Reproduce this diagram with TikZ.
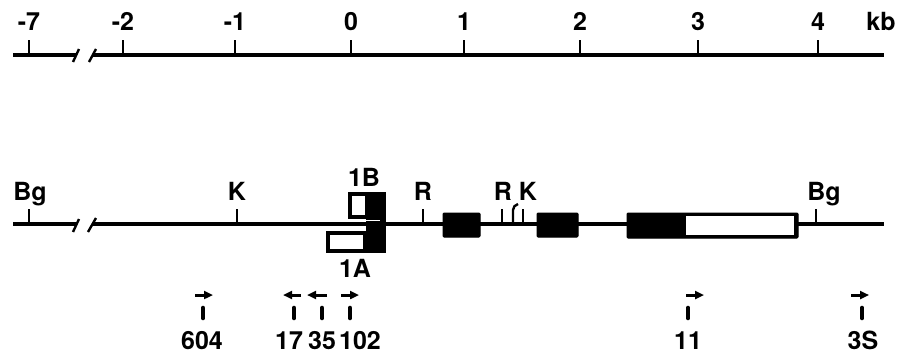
\documentclass[tikz,border=0pt]{standalone}
\usepackage{fontspec}
\setmainfont{TeX Gyre Heros}
\usetikzlibrary{arrows.meta}
\begin{document}
\begin{tikzpicture}[x=1pt,y=-1pt,
  lbl/.style={font=\fontsize{25}{25}\selectfont\bfseries, inner sep=0pt, anchor=base},
  axis/.style={line width=3.6pt},
  tick/.style={line width=2.4pt},
  brk/.style={line width=2.4pt},
  exon/.style={fill=black, draw=black, line width=1pt, rounded corners=1pt},
  utr/.style={fill=white, draw=black, line width=1.6pt},
  primer/.style={line width=3pt, -{Triangle[length=9pt,width=8pt]}},
  pbar/.style={line width=4.6pt, line cap=round}]
\useasboundingbox (0,0) rectangle (899,356);

% ---------- kb scale ----------
\draw[axis] (13,55) -- (76,55);
\draw[brk] (73,62) -- (79,49);
\draw[brk] (89,62) -- (96,49);
\draw[axis] (93,55) -- (884,55);
\foreach \x/\t [count=\i] in {29/-7,123/-2,235/-1,351/0,464/1,580/2,698/3,818/4}{
  \coordinate (s\i) at (\x,55);
  \draw[tick] (s\i) -- ++(0,-15);
  \node[lbl] (sl\i) at (\x,30) {\t};
}
\node[lbl] (kb) at (881,30) {kb};

% ---------- gene map ----------
\draw[axis,line width=4pt] (13,224) -- (76,224);
\draw[brk] (73,232) -- (79,219);
\draw[brk] (88,232) -- (96,218);
\draw[axis,line width=4pt] (93,224) -- (884,224);

% restriction sites
\foreach \x/\n in {29/bgA,237/kA,423/rA,502/rB,523/kB,816/bgB}{
  \coordinate (\n) at (\x,224);
  \draw[tick] (\n) -- ++(0,-15);
}
\node[lbl] (lbgA) at (30,200) {Bg};
\node[lbl] (lkA) at (237,200) {K};
\node[lbl] (lrA) at (423,200) {R};
\node[lbl] (lrB) at (503,200) {R};
\node[lbl] (lkB) at (528,200) {K};
\node[lbl] (lbgB) at (824,200) {Bg};
\coordinate (hk) at (513,224);
\draw[tick] (hk) -- ++(0,-14) to[out=90,in=200] (518,204);

% exons 1A / 1B
\fill (348,192) rectangle (386,219);
\fill[white] (352,196) rectangle (365,215);
\fill (326,231) rectangle (386,253);
\fill[white] (330,235) rectangle (363,249);
\fill (366,192) rectangle (386,253);
\draw[white,line width=1pt] (330,220.5) -- (380,220.5);
\node[lbl] (l1B) at (364,186) {1B};
\node[lbl] (l1A) at (355,277) {1A};

% exons 2, 3 and the last exon
\draw[exon] (443,213) rectangle (480,237);
\draw[exon] (537,213) rectangle (578,237);
\draw[exon] (627,213) rectangle (798,238);
\draw[utr] (685,215.5) rectangle (795,235.5);

% ---------- primers ----------
\foreach \a/\b/\bx/\n in {195/213/203/p604,301/283/294/p17,327/307/322/p35,341/359/350/p102,686/704/688/p11,851/869/862/p3S}{
  \draw[primer] (\a,295) -- (\b,295);
  \coordinate (\n) at (\bx,308);
  \draw[pbar] (\n) -- ++(0,10);
}
\node[lbl] (l604) at (202,349) {604};
\node[lbl] (l17) at (289,349) {17};
\node[lbl] (l35) at (322,349) {35};
\node[lbl] (l102) at (360,349) {102};
\node[lbl] (l11) at (688,349) {11};
\node[lbl] (l3S) at (863,349) {3S};
\end{tikzpicture}
\end{document}
